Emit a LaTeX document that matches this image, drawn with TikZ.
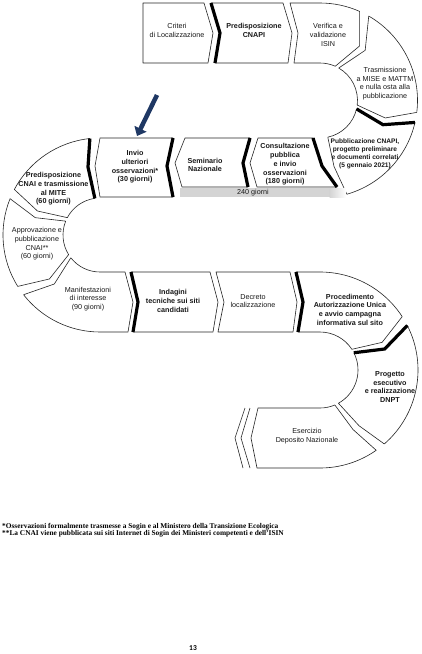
\documentclass[tikz,border=0pt]{standalone}
\usepackage{fontspec}
\setmainfont{Liberation Sans}
\newfontfamily\fnserif{Liberation Serif}
\newfontfamily\pgnum{Carlito}
\usetikzlibrary{calc,arrows.meta}
\definecolor{arrowblue}{RGB}{31,56,100}
\begin{document}
\begin{tikzpicture}[x=1pt,y=-1pt,
  seg/.style={draw=black!85, line width=0.6pt, fill=white, line join=round},
  thickbar/.style={draw=black, line width=3.2pt, line join=miter, line cap=butt},
  lbl/.style={align=center, font=\fontsize{7.2}{8.7}\selectfont, text=black!90, inner sep=0pt},
  blbl/.style={align=center, font=\fontsize{7.2}{8.7}\selectfont\bfseries, text=black!90, inner sep=0pt},
]
\fill[white] (0,0) rectangle (421,654);
\useasboundingbox (0,0) rectangle (421,654);
\coordinate (O1) at (320,100.5);
\coordinate (O2) at (100,235);
\coordinate (O3) at (320,370);

% ---- row 1
\draw[seg] (143,3) -- (204,3) -- (213,33) -- (208,63) -- (143,63) -- cycle;
\draw[seg] (211,3) -- (283,3) -- (292,33) -- (288,63) -- (215,63) -- (220,33) -- cycle;
\draw[thickbar] (211,3) -- (220,33) -- (215,63);
\draw[seg] (290,3) -- (320,3) arc[start angle=-90,end angle=-66,radius=97.5]
  -- ($(O1)+(-54:67.5)$) -- ($(O1)+(-66:37.5)$) arc[start angle=-66,end angle=-90,radius=37.5]
  -- (294,63) -- (298,33) -- cycle;
% ---- right arc 1
\draw[seg] ($(O1)+(-60:97.5)$) arc[start angle=-60,end angle=7,radius=97.5]
  -- ($(O1)+(15:67.5)$) -- ($(O1)+(7:37.5)$) arc[start angle=7,end angle=-60,radius=37.5]
  -- ($(O1)+(-48:67.5)$) -- cycle;
\draw[seg] ($(O1)+(13:97.5)$) arc[start angle=13,end angle=74,radius=97.5]
  -- ($(O1)+(78:67.5)$) -- ($(O1)+(78:37.5)$) arc[start angle=78,end angle=13,radius=37.5]
  -- ($(O1)+(21:67.5)$) -- cycle;
\draw[thickbar] ($(O1)+(13:37.5)$) -- ($(O1)+(21:67.5)$) -- ($(O1)+(13:97.5)$);
% ---- row 2
\fill[black!17] (180,188) rectangle (330,197);
\shade[left color=black!17, right color=white] (329.5,188) rectangle (346,197);
\draw[seg] (258,138) -- (313,138) -- (322,166) -- (337,187) -- (257,187) -- (250,163) -- cycle;
\draw[thickbar] (313,138) -- (322,166) -- (337,187);
\draw[seg] (185,138) -- (250,138) -- (243,163) -- (248,187) -- (182,187) -- (175,163) -- cycle;
\draw[thickbar] (250,138) -- (243,163) -- (248,187);
\draw[seg] (100,138) -- (173,138) -- (167,166) -- (173,197) -- (100,197) -- (95,166) -- cycle;
\draw[thickbar] (173,138) -- (167,166) -- (173,197);
% ---- left arc
\draw[seg] ($(O2)+(264:97)$) arc[start angle=264,end angle=208,radius=97]
  -- ($(O2)+(201:67)$) -- ($(O2)+(208:37)$) arc[start angle=208,end angle=262,radius=37]
  -- (88,167) -- cycle;
\draw[thickbar] ($(O2)+(264:97)$) -- (88,167) -- ($(O2)+(262:37)$);
\draw[seg] ($(O2)+(202:97)$) arc[start angle=202,end angle=148,radius=97]
  -- ($(O2)+(139:67)$) -- ($(O2)+(148:37)$) arc[start angle=148,end angle=202,radius=37]
  -- ($(O2)+(195:67)$) -- cycle;
\draw[seg] ($(O2)+(142:97)$) arc[start angle=142,end angle=90,radius=97]
  -- (128,332) -- (133,302) -- (125,272) -- (100,272) arc[start angle=90,end angle=142,radius=37]
  -- ($(O2)+(133:67)$) -- cycle;
% ---- row 3
\draw[seg] (131,272) -- (210,272) -- (218,302) -- (213,332) -- (133,332) -- (138,302) -- cycle;
\draw[thickbar] (131,272) -- (138,302) -- (133,332);
\draw[seg] (216,272) -- (290,272) -- (297,302) -- (293,332) -- (218,332) -- (224,302) -- cycle;
\draw[seg] (296,272) -- (320,272) arc[start angle=-90,end angle=-33,radius=98]
  -- ($(O3)+(-24:68)$) -- ($(O3)+(-33:38)$) arc[start angle=-33,end angle=-90,radius=38]
  -- (298,332) -- (303,302) -- cycle;
\draw[thickbar] (296,272) -- (303,302) -- (298,332);
% ---- right arc 2
\draw[seg] ($(O3)+(-27:98)$) arc[start angle=-27,end angle=49,radius=98]
  -- ($(O3)+(55:68)$) -- ($(O3)+(61:38)$) arc[start angle=61,end angle=-27,radius=38]
  -- ($(O3)+(-18:68)$) -- cycle;
\draw[thickbar] ($(O3)+(-27:38)$) -- ($(O3)+(-18:68)$) -- ($(O3)+(-27:98)$);
\draw[seg] ($(O3)+(55:98)$) arc[start angle=55,end angle=90,radius=98]
  -- (257,468) -- (251,438) -- (258,408) -- (320,408) arc[start angle=90,end angle=67,radius=38]
  -- ($(O3)+(61:68)$) -- cycle;
\draw[seg, fill=none] (245,408) -- (235,438) -- (243,468);
\draw[seg, fill=none] (250,408) -- (241,438) -- (250,468);

% ---- labels
\node[lbl]  (criteri) at (177,30.5) {Criteri\\di Localizzazione};
\node[blbl] (cnapi)   at (254,30.5) {Predisposizione\\CNAPI};
\node[lbl]  (isin)    at (328,34.8) {Verifica e\\validazione\\ISIN};
\node[lbl]  (trasm)   at (385,83.5) {Trasmissione\\a MISE e MATTM\\e nulla osta alla\\pubblicazione};
\node[blbl, font=\fontsize{6.6}{8.2}\selectfont\bfseries] (pubbl) at (365,154) {Pubblicazione CNAPI,\\progetto preliminare\\e documenti correlati\\(5 gennaio 2021)};
\node[blbl] (consult) at (285,164.5) {Consultazione\\pubblica\\e invio\\osservazioni\\(180 giorni)};
\node[blbl] (semin)   at (205,165) {Seminario\\Nazionale};
\node[blbl] (invio)   at (135,167) {Invio\\ulteriori\\osservazioni*\\(30 giorni)};
\node[blbl] (cnai)    at (53.5,189) {Predisposizione\\CNAI e trasmissione\\al MITE\\(60 giorni)};
\node[lbl]  (approv)  at (37,244) {Approvazione e\\pubblicazione\\CNAI**\\(60 giorni)};
\node[lbl]  (manif)   at (88,299) {Manifestazioni\\di interesse\\(90 giorni)};
\node[blbl] (indag)   at (173,301) {Indagini\\tecniche sui siti\\candidati};
\node[lbl]  (decreto) at (253,301) {Decreto\\localizzazione};
\node[blbl] (proced)  at (350,309.5) {Procedimento\\Autorizzazione Unica\\e avvio campagna\\informativa sul sito};
\node[blbl] (progetto) at (390,387) {Progetto\\esecutivo\\e realizzazione\\DNPT};
\node[lbl]  (eserc)   at (307,436) {Esercizio\\Deposito Nazionale};
\node[lbl]  (giorni)  at (253,192.5) {240 giorni};

% ---- arrow
\coordinate (arrT) at (157,95);
\coordinate (arrH) at (137,136);
\draw[line width=4.5pt, draw=arrowblue, -{Triangle[width=13pt,length=8pt]}] (arrT) -- (arrH);

% ---- footnotes
\node[anchor=base west, inner sep=0pt, font=\fnserif\bfseries\fontsize{7.35}{7.6}\selectfont] (note1) at (2,528)
  {*Osservazioni formalmente trasmesse a Sogin e al Ministero della Transizione Ecologica};
\node[anchor=base west, inner sep=0pt, font=\fnserif\bfseries\fontsize{7.35}{7.6}\selectfont] (note2) at (2,535.5)
  {**La CNAI viene pubblicata sui siti Internet di Sogin dei Ministeri competenti e dell’ISIN};
\node[inner sep=0pt, font=\pgnum\bfseries\fontsize{7.5}{8}\selectfont] (pg) at (193,648.5) {13};
\end{tikzpicture}
\end{document}
